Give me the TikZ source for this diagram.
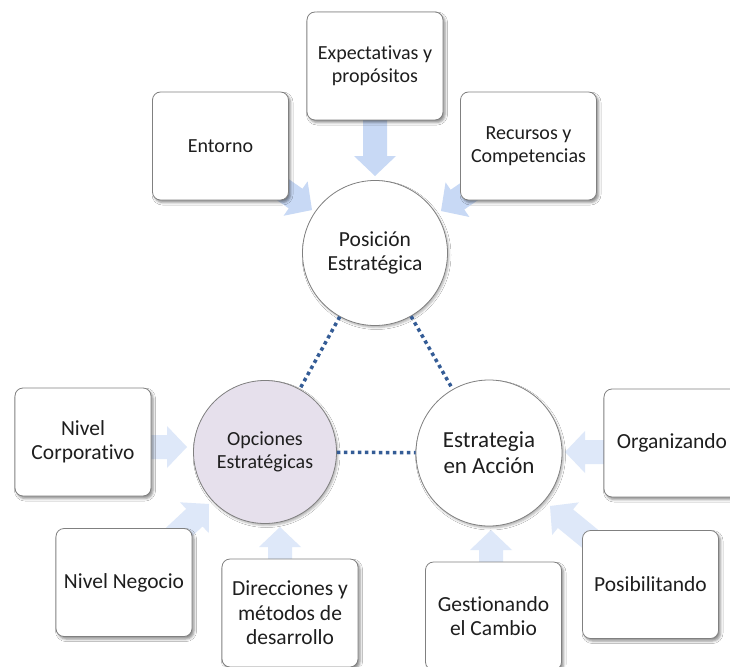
\documentclass[tikz,border=0pt]{standalone}
\usepackage{fontspec}
\setmainfont{Carlito}[Ligatures={NoCommon}]
\usetikzlibrary{calc,shadows.blur}

\definecolor{boxline}{RGB}{128,128,128}
\definecolor{optfill}{RGB}{230,224,236}
\definecolor{dotblue}{RGB}{52,92,150}
\definecolor{arrowtop}{RGB}{200,217,245}
\definecolor{arrowlow}{RGB}{222,232,249}
\definecolor{txt}{RGB}{30,30,30}

\newcommand\fsA{\fontsize{20}{23}\selectfont}
\newcommand\fsB{\fontsize{21.5}{24.5}\selectfont}
\newcommand\fsC{\fontsize{21.5}{24.5}\selectfont}
\newcommand\fsD{\fontsize{20}{23}\selectfont}
\newcommand\fsE{\fontsize{23}{26}\selectfont}

% block arrow from tail coordinate #1 to tip coordinate #2, fill style #3
\newcommand\blockarrow[3]{%
  \coordinate (bah) at ($(#2)!20pt!(#1)$);
  \fill[#3] ($(#1)!12pt!90:(#2)$) -- ($(bah)!12pt!90:(#2)$) -- ($(bah)!21pt!90:(#2)$)
    -- (#2) -- ($(bah)!21pt!-90:(#2)$) -- ($(bah)!12pt!-90:(#2)$)
    -- ($(#1)!12pt!-90:(#2)$) -- cycle;}

\tikzset{
  box/.style={draw=boxline, line width=0.8pt, fill=white, rounded corners=8pt,
    minimum width=136pt, minimum height=108pt, align=center, text=txt, inner sep=2pt,
    blur shadow={shadow xshift=2pt, shadow yshift=-2.5pt, shadow blur radius=2.5pt, shadow opacity=45}},
  hub/.style={circle, draw=boxline, line width=0.8pt, fill=white, minimum size=145pt,
    inner sep=0pt, align=center, text=txt,
    blur shadow={shadow xshift=1.5pt, shadow yshift=-2pt, shadow blur radius=2pt, shadow opacity=30}},
  link/.style={draw=dotblue, line width=3.5pt, dash pattern=on 3.5pt off 3.5pt},
  upperarrow/.style={fill=arrowtop},
  lowerarrow/.style={fill=arrowlow},
}

\begin{document}
\begin{tikzpicture}[x=1pt, y=-1pt]
  \useasboundingbox (0,0) rectangle (730,666);
  \fill[white] (0,0) rectangle (730,666);

  % arrow ends
  \coordinate (t1) at (375,112);   \coordinate (h1) at (375,176);
  \coordinate (t2) at (267,178.6); \coordinate (h2) at (312,210);
  \coordinate (t3) at (486,180);   \coordinate (h3) at (441,211);
  \coordinate (t4) at (135,447);   \coordinate (h4) at (187,447);
  \coordinate (t5) at (620,452);   \coordinate (h5) at (565,452);
  \coordinate (t6) at (168.8,541.6); \coordinate (h6) at (209,504);
  \coordinate (t7) at (280,572);   \coordinate (h7) at (280,527);
  \coordinate (t8) at (491,575);   \coordinate (h8) at (491,530);
  \coordinate (t9) at (596.4,544); \coordinate (h9) at (550,506);

  % block arrows, under the boxes
  \blockarrow{t1}{h1}{upperarrow}
  \blockarrow{t2}{h2}{upperarrow}
  \blockarrow{t3}{h3}{upperarrow}
  \blockarrow{t4}{h4}{lowerarrow}
  \blockarrow{t5}{h5}{lowerarrow}
  \blockarrow{t6}{h6}{lowerarrow}
  \blockarrow{t7}{h7}{lowerarrow}
  \blockarrow{t8}{h8}{lowerarrow}
  \blockarrow{t9}{h9}{lowerarrow}

  % boxes
  \node[box, font=\fsA] (expect)   at (375,66)    {Expectativas y\\propósitos};
  \node[box, font=\fsA] (entorno)  at (220.5,146) {Entorno};
  \node[box, font=\fsA] (recursos) at (528.5,146) {Recursos y\\Competencias};
  \node[box, font=\fsB] (nivcorp)  at (83,442)    {Nivel\\Corporativo};
  \node[box, font=\fsB] (organiz)  at (672,443)   {Organizando};
  \node[box, font=\fsB] (nivneg)   at (124,582.5) {Nivel Negocio};
  \node[box, font=\fsB] (direcc)   at (290,613)   {Direcciones y\\métodos de\\desarrollo};
  \node[box, font=\fsB] (gestion)  at (493.5,616) {Gestionando\\el Cambio};
  \node[box, font=\fsB] (posib)    at (650.5,584.5) {Posibilitando};

  % central circles
  \node[hub, font=\fsC] (pos) at (375,253) {Posición\\Estratégica};
  \node[hub, fill=optfill, font=\fsD, minimum size=143pt] (opc) at (265,452) {Opciones\\Estratégicas};
  \node[hub, font=\fsE, minimum size=146pt] (acc) at (489,453) {Estrategia\\en Acción};

  % dotted links between the circles
  \draw[link] (pos) -- (opc);
  \draw[link] (pos) -- (acc);
  \draw[link] (opc) -- (acc);
\end{tikzpicture}
\end{document}
